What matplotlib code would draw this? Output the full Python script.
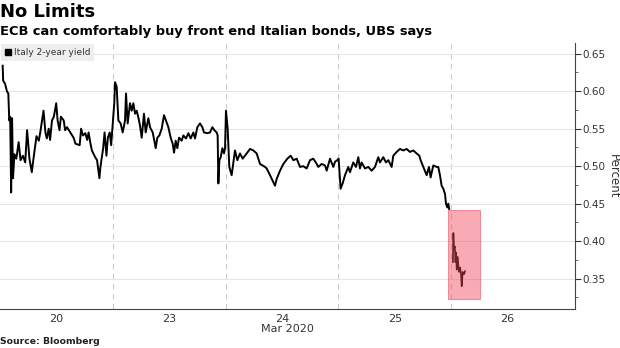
import numpy as np
import matplotlib.pyplot as plt
from matplotlib.lines import Line2D
from matplotlib.patches import Rectangle
from matplotlib.ticker import MultipleLocator, FormatStrFormatter

# trading days shown on the axis (weekend dropped)
day_labels = ['20', '23', '24', '25', '26']

# intraday Italy 2-year yield, hours into each trading day
hours_20 = [0.5, 0.6, 1.0, 1.4, 1.7, 1.9, 2.1, 2.3, 2.5, 2.7, 3.0, 3.4, 3.9, 4.3, 4.8,
            5.3, 5.7, 6.2, 6.7, 7.1, 7.7, 8.2, 8.5, 9.2, 9.6, 9.9, 10.3, 10.6, 11.0,
            11.4, 11.9, 12.2, 12.6, 12.9, 13.5, 13.8, 14.2, 14.9, 15.6, 16.0, 16.9,
            17.2, 17.6, 18.1, 18.5, 18.8, 19.2, 19.5, 20.2, 20.6, 21.1, 21.3, 21.9,
            22.2, 22.6, 22.9, 23.3, 23.6, 23.8]
yield_20 = [0.634, 0.614, 0.610, 0.600, 0.597, 0.561, 0.566, 0.465, 0.564, 0.484, 0.516,
            0.510, 0.532, 0.508, 0.514, 0.505, 0.548, 0.510, 0.492, 0.512, 0.540, 0.534,
            0.545, 0.574, 0.545, 0.537, 0.550, 0.535, 0.561, 0.566, 0.584, 0.561, 0.548,
            0.566, 0.561, 0.548, 0.552, 0.545, 0.538, 0.530, 0.528, 0.550, 0.541, 0.544,
            0.535, 0.545, 0.530, 0.521, 0.512, 0.508, 0.484, 0.498, 0.524, 0.545, 0.514,
            0.538, 0.545, 0.528, 0.545]

hours_23 = [0.28, 0.43, 0.78, 1.14, 1.63, 2.06, 2.56, 2.77, 3.12, 3.62, 3.98, 4.33, 4.69,
            5.04, 5.40, 5.75, 6.11, 6.60, 6.96, 7.53, 7.88, 8.45, 8.80, 9.09, 9.44, 9.87,
            10.37, 10.86, 11.43, 11.79, 12.28, 12.71, 13.0, 13.35, 13.70, 14.06, 14.63,
            14.98, 15.55, 16.05, 16.54, 17.11, 17.47, 17.96, 18.53, 19.03, 19.38, 20.09,
            20.66, 21.16, 21.58, 22.08, 22.29, 22.44, 22.65, 22.94, 23.29, 23.65, 23.86]
yield_23 = [0.585, 0.612, 0.606, 0.561, 0.557, 0.545, 0.561, 0.597, 0.557, 0.584, 0.574,
            0.584, 0.570, 0.574, 0.565, 0.554, 0.538, 0.570, 0.545, 0.564, 0.552, 0.545,
            0.534, 0.524, 0.538, 0.541, 0.550, 0.568, 0.558, 0.552, 0.538, 0.530, 0.518,
            0.534, 0.524, 0.538, 0.534, 0.541, 0.537, 0.544, 0.537, 0.545, 0.537, 0.552,
            0.557, 0.552, 0.545, 0.544, 0.545, 0.552, 0.548, 0.545, 0.541, 0.477, 0.508,
            0.512, 0.524, 0.517, 0.524]

hours_24 = [0.06, 0.42, 0.77, 1.27, 1.98, 2.48, 3.05, 3.61, 4.11, 5.18, 5.89, 6.60, 7.31,
            8.37, 8.73, 9.44, 10.50, 10.86, 11.57, 12.28, 13.13, 13.84, 14.41, 15.12,
            15.83, 16.54, 17.25, 17.96, 18.67, 19.38, 19.73, 20.45, 21.16, 21.51, 22.22,
            22.93, 23.29, 23.78]
yield_24 = [0.574, 0.550, 0.499, 0.488, 0.521, 0.508, 0.517, 0.510, 0.514, 0.523, 0.521,
            0.517, 0.503, 0.499, 0.497, 0.488, 0.474, 0.483, 0.494, 0.503, 0.510, 0.514,
            0.508, 0.510, 0.499, 0.500, 0.497, 0.508, 0.510, 0.503, 0.499, 0.503, 0.501,
            0.494, 0.510, 0.499, 0.506, 0.508]

hours_25 = [0.05, 0.48, 0.91, 1.41, 2.12, 2.47, 3.18, 3.75, 4.25, 4.60, 4.96, 5.67, 6.38,
            7.09, 7.80, 8.50, 8.86, 9.57, 10.14, 10.64, 11.35, 11.70, 12.41, 13.12, 13.83,
            14.54, 15.25, 15.96, 16.67, 17.24, 17.52, 18.09, 18.45, 18.80, 19.30, 19.65,
            20.22, 20.93, 21.28, 21.64, 21.99, 22.35, 22.71, 22.92, 23.21, 23.42, 23.60]
yield_25 = [0.510, 0.470, 0.477, 0.488, 0.499, 0.492, 0.505, 0.499, 0.512, 0.497, 0.505,
            0.497, 0.499, 0.494, 0.499, 0.512, 0.505, 0.512, 0.505, 0.508, 0.499, 0.514,
            0.519, 0.523, 0.521, 0.523, 0.519, 0.521, 0.517, 0.514, 0.508, 0.499, 0.493,
            0.488, 0.499, 0.485, 0.501, 0.499, 0.499, 0.488, 0.474, 0.470, 0.463, 0.450,
            0.445, 0.450, 0.443]

hours_26 = [0.40, 0.50, 0.62, 0.80, 0.95, 1.05, 1.21, 1.42, 1.60, 1.70, 1.92, 2.13, 2.27,
            2.40, 2.49, 2.77, 2.98]
yield_26 = [0.372, 0.411, 0.390, 0.393, 0.372, 0.385, 0.362, 0.379, 0.364, 0.359, 0.365,
            0.356, 0.340, 0.352, 0.359, 0.356, 0.360]

# highlighted window after the ECB announcement
box_x = (3.97, 4.26)
box_y = (0.3235, 0.441)

days_hours = [hours_20, hours_23, hours_24, hours_25]
days_yield = [yield_20, yield_23, yield_24, yield_25]
x_main = np.concatenate([i + np.array(h) / 24 for i, h in enumerate(days_hours)])
y_main = np.concatenate(days_yield)
x_last = 4 + np.array(hours_26) / 24

fig = plt.figure(figsize=(6.2, 3.48), dpi=100)
ax = fig.add_axes([0.0, 0.113, 0.9274, 0.7635])

ax.plot(x_main, y_main, color='black', lw=1.4, zorder=3)
ax.plot(x_last, yield_26, color='black', lw=1.2, zorder=3)

ax.add_patch(Rectangle((box_x[0], box_y[0]), box_x[1] - box_x[0], box_y[1] - box_y[0],
                       facecolor='#f0465a', alpha=0.45, edgecolor='#e03048', lw=0.8, zorder=4))

ax.set_xlim(-0.003, 5.10)
ax.set_ylim(0.310, 0.6643)

ax.set_xticks(np.arange(len(day_labels)) + 0.5)
ax.set_xticklabels(day_labels, fontsize=8, color='#333333')
ax.tick_params(axis='x', length=0, pad=4)
ax.set_xlabel('Mar 2020', fontsize=8, color='#333333', labelpad=0)
for b in range(1, len(day_labels)):
    ax.axvline(b, color='#cccccc', lw=0.8, ls=(0, (5, 4)), zorder=1)

ax.yaxis.tick_right()
ax.yaxis.set_label_position('right')
ax.yaxis.set_major_locator(MultipleLocator(0.05))
ax.yaxis.set_minor_locator(MultipleLocator(0.025))
ax.yaxis.set_major_formatter(FormatStrFormatter('%.2f'))
ax.tick_params(axis='y', which='major', length=4, width=0.8, labelsize=7.5,
               colors='#333333', pad=1)
ax.tick_params(axis='y', which='minor', length=2, width=0.6, colors='#555555')
ax.set_ylabel('Percent', rotation=270, fontsize=8.5, color='#333333', labelpad=11)
ax.grid(axis='y', which='major', color='#e6e6e6', lw=0.8, zorder=0)

for s in ['left', 'top']:
    ax.spines[s].set_visible(False)
ax.spines['right'].set_color('#444444')
ax.spines['bottom'].set_color('#444444')

handle = Line2D([], [], color='black', marker='s', ls='none', markersize=4.5)
leg = ax.legend([handle], ['Italy 2-year yield'], loc='upper left', fontsize=6.5,
                frameon=True, fancybox=False, handlelength=0.6, handletextpad=0.3,
                borderpad=0.45, borderaxespad=0.15, labelcolor='#333333')
leg.get_frame().set_facecolor('#eeeeee')
leg.get_frame().set_edgecolor('none')
leg.get_frame().set_alpha(1)

fig.text(0.0, 0.965, 'No Limits', fontsize=13, fontweight='bold', va='center', ha='left')
fig.text(0.0, 0.91, 'ECB can comfortably buy front end Italian bonds, UBS says',
         fontsize=9.4, fontweight='bold', va='center', ha='left')
fig.text(0.0, 0.02, 'Source: Bloomberg', fontsize=6.7, fontweight='bold', va='center',
         ha='left', color='#222222')

fig.savefig('out.png', dpi=100)
